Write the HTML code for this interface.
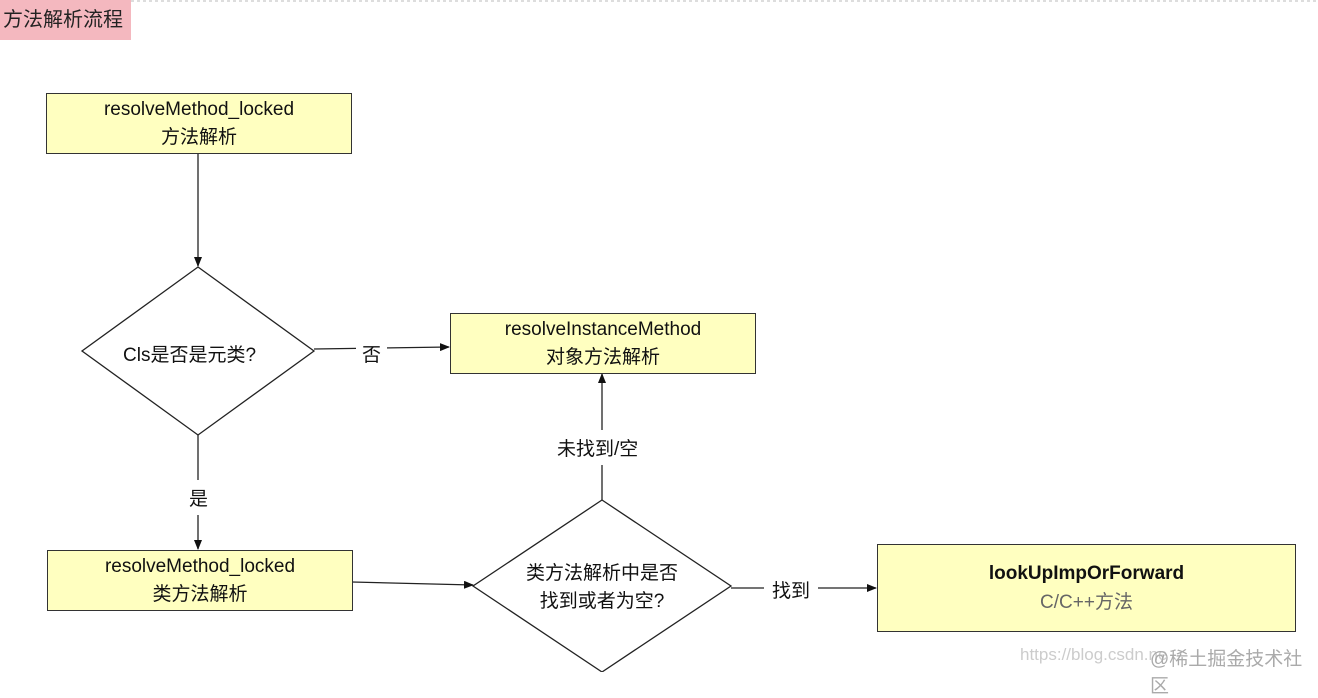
<!DOCTYPE html>
<html><head><meta charset="utf-8"><style>
body{margin:0;width:1318px;height:672px;background:#fff;position:relative;overflow:hidden;font-family:"Liberation Sans","Noto Sans CJK SC",sans-serif;}
.t{position:absolute;left:0;top:0;width:131px;height:40px;background:#f4b8bf;font-size:20px;color:#222;line-height:40px;padding-left:3px;box-sizing:border-box;}
.b{position:absolute;background:#ffffc0;border:1.5px solid #333;box-sizing:border-box;text-align:center;font-size:19px;color:#111;display:flex;flex-direction:column;justify-content:center;line-height:28px;}
.l{position:absolute;font-size:19px;color:#111;background:#fff;}
svg{position:absolute;left:0;top:0}
</style></head><body>
<svg width="1318" height="672">
<defs><marker id="a" markerWidth="10" markerHeight="8" refX="9" refY="4" orient="auto" markerUnits="userSpaceOnUse"><path d="M0,0L10,4L0,8z" fill="#111"/></marker></defs>
<line x1="131" y1="1" x2="1318" y2="1" stroke="#bbb" stroke-dasharray="3,3"/>
<g stroke="#222" stroke-width="1.3" fill="none">
<polygon points="198,267 314,351 198,435 82,351" fill="#fff"/>
<polygon points="602,500 731,586 602,672 473,586" fill="#fff"/>
<line x1="198" y1="153" x2="198" y2="266" marker-end="url(#a)"/>
<line x1="314" y1="349" x2="449" y2="347" marker-end="url(#a)"/>
<line x1="198" y1="435" x2="198" y2="549" marker-end="url(#a)"/>
<line x1="352" y1="582" x2="473" y2="585" marker-end="url(#a)"/>
<line x1="602" y1="500" x2="602" y2="374" marker-end="url(#a)"/>
<line x1="731" y1="588" x2="876" y2="588" marker-end="url(#a)"/>
</g></svg>
<div class="t">方法解析流程</div>
<div class="b" style="left:46px;top:93px;width:306px;height:61px">resolveMethod_locked<br>方法解析</div>
<div class="b" style="left:450px;top:313px;width:306px;height:61px">resolveInstanceMethod<br>对象方法解析</div>
<div class="b" style="left:47px;top:550px;width:306px;height:61px">resolveMethod_locked<br>类方法解析</div>
<div class="b" style="left:877px;top:544px;width:419px;height:88px;line-height:29px"><b style="font-weight:600">lookUpImpOrForward</b><span style="color:#666">C/C++方法</span></div>
<div class="l" style="left:123px;top:340px;background:none">Cls是否是元类?</div>
<div class="l" style="left:517px;top:560px;line-height:28px;background:none;text-align:center;width:170px">类方法解析中是否<br>找到或者为空?</div>
<div class="l" style="left:356px;top:340px;padding:0 6px">否</div>
<div class="l" style="left:183px;top:480px;padding:4px 6px">是</div>
<div class="l" style="left:553px;top:430px;padding:4px 4px">未找到/空</div>
<div class="l" style="left:764px;top:576px;padding:0 8px">找到</div>
<div style="position:absolute;left:1020px;top:645px;font-size:17px;color:#ccc">https://blog.csdn.ne</div>
<div style="position:absolute;left:1150px;top:644px;font-size:19px;color:#aaa">@稀土掘金技术社区</div>
</body></html>
